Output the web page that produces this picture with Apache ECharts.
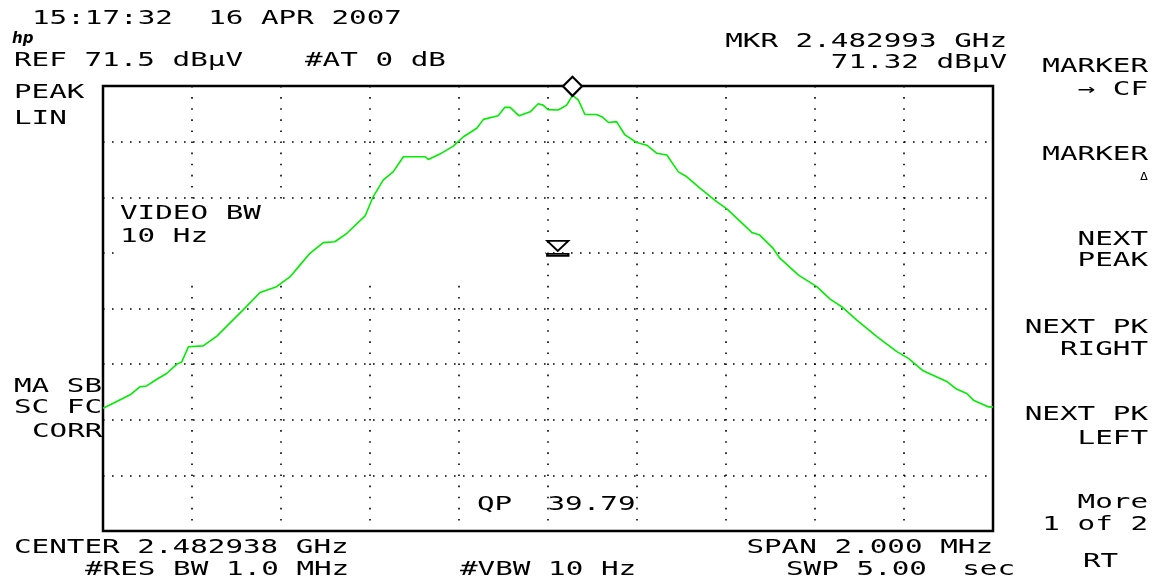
<!DOCTYPE html>
<html>
<head>
<meta charset="utf-8">
<script src="https://cdn.jsdelivr.net/npm/echarts@6/dist/echarts.min.js"></script>
<style>
html,body{margin:0;padding:0;background:#fff;}
#chart{width:1159px;height:585px;}
</style>
</head>
<body>
<div id="chart"></div>
<script>
// ---- data (frequency offset from center in kHz, linear level in % of REF 71.5 dBuV) ----
var freqKHz = [-1000,-977,-939,-917,-902,-879,-857,-834,-823,-808,-775,-744,-715,-685,-647,-610,-580,-557,-535,-505,-479,-452,-411,-393,-370,-348,-325,-276,-269,-243,-213,-190,-160,-145,-112,-97,-85,-65,-40,-22,-11,0,23,42,55,68,83,109,121,136,154,173,199,222,244,267,293,312,342,379,402,424,458,476,506,521,563,604,634,660,694,739,784,810,843,896,918,941,956,989,1000];
var levelPct = [27.6,28.7,30.6,32.4,32.6,34.1,35.4,37.5,38.0,41.4,41.6,43.8,46.7,49.7,53.6,54.9,57.1,59.8,62.4,64.8,65.0,66.9,70.8,75.1,78.9,80.7,84.1,84.1,83.5,84.7,86.5,88.6,90.5,92.5,93.3,95.2,95.2,93.3,94.2,96.0,95.7,94.7,94.6,95.7,97.9,96.9,93.6,93.6,93.1,91.8,92.0,89.0,87.3,86.7,84.9,84.5,80.7,79.6,77.0,74.0,72.4,70.3,67.1,66.5,63.5,61.3,57.5,54.9,52.1,50.4,47.4,43.7,40.3,38.8,36.0,33.6,31.9,30.9,29.4,27.9,27.9];
var markerPeak = [55, 97.9];        // MKR 2.482993 GHz, 71.32 dBuV
var displayLine = [22, 63.5];       // display line symbol
var xRange = [-1000, 1000];
var xStep = 200;
var yRange = [0, 100];
var yStep = 12.5;

// ---- annotation texts ----
var headerTexts = ["15:17:32  16 APR 2007", "REF 71.5 dBµV", "#AT 0 dB", "MKR 2.482993 GHz", "71.32 dBµV"];
var leftTexts = ["PEAK", "LIN", "VIDEO BW", "10 Hz", "MA SB", "SC FC", "CORR"];
var footerTexts = ["CENTER 2.482938 GHz", "SPAN 2.000 MHz", "#RES BW 1.0 MHz", "#VBW 10 Hz", "SWP 5.00  sec", "QP  39.79"];
var menuTexts = ["MARKER", "→ CF", "MARKER", "NEXT", "PEAK", "NEXT PK", "RIGHT", "NEXT PK", "LEFT", "More", "1 of 2", "RT"];

var FONT = '19px "DejaVu Sans Mono"';
var SX = 1.54;
function T(s, x, y, align, font, sx) {
  return {
    type: 'text', x: x, y: y, scaleX: sx || SX, z: 10,
    style: {
      text: s, font: font || FONT, fill: '#000',
      textAlign: align || 'left', textVerticalAlign: 'middle',
      align: align || 'left', verticalAlign: 'middle'
    }
  };
}

var data = freqKHz.map(function (f, i) { return [f, levelPct[i]]; });

var chart = echarts.init(document.getElementById('chart'));
chart.setOption({
  backgroundColor: '#fff',
  animation: false,
  grid: {
    left: 103, top: 86, width: 890, height: 445,
    show: true, borderColor: '#000', borderWidth: 2.5, backgroundColor: 'transparent'
  },
  xAxis: {
    type: 'value', min: xRange[0], max: xRange[1], interval: xStep,
    axisLine: {show: false}, axisTick: {show: false}, axisLabel: {show: false},
    splitLine: {show: true, lineStyle: {color: '#000', width: 1.6, type: [1.6, 9.5]}}
  },
  yAxis: {
    type: 'value', min: yRange[0], max: yRange[1], interval: yStep,
    axisLine: {show: false}, axisTick: {show: false}, axisLabel: {show: false},
    splitLine: {show: true, lineStyle: {color: '#000', width: 1.6, type: [1.6, 7.4]}}
  },
  series: [{
    type: 'line', data: data, z: 3,
    symbol: 'none', smooth: false,
    lineStyle: {color: '#00ee00', width: 1.6},
    markPoint: {
      silent: true,
      label: {show: false},
      data: [
        {coord: markerPeak, symbol: 'diamond', symbolSize: [19, 19], symbolOffset: [0, -9],
         itemStyle: {color: '#fff', borderColor: '#000', borderWidth: 2.2}},
        {coord: displayLine,
         symbol: 'path://M0,0 L22,0 L11,10 Z M0,13 L22,13 L22,15 L0,15 Z',
         symbolSize: [21, 15], symbolKeepAspect: false,
         itemStyle: {color: '#fff', borderColor: '#000', borderWidth: 2}}
      ]
    }
  }],
  graphic: [
    // region of the screen cleared by the annotation block
    {type: 'rect', z: 1, shape: {x: 115, y: 201, width: 430, height: 82}, style: {fill: '#fff'}},
    // hp logo
    {type: 'text', x: 12, y: 39, z: 10,
     style: {text: 'hp', font: 'italic bold 15px "DejaVu Sans"', fill: '#000', textAlign: 'left', textVerticalAlign: 'middle', align: 'left', verticalAlign: 'middle'}},
    T(headerTexts[0], 32, 19),
    T(headerTexts[1], 14, 61.5),
    T(headerTexts[2], 305, 61.5),
    T(headerTexts[3], 1007, 42, 'right'),
    T(headerTexts[4], 1007, 63, 'right'),
    T(leftTexts[0], 14, 93),
    T(leftTexts[1], 14, 119),
    T(leftTexts[2], 120, 214),
    T(leftTexts[3], 120, 237),
    T(leftTexts[4], 14, 387.5),
    T(leftTexts[5], 14, 408),
    T(leftTexts[6], 32, 432),
    T(footerTexts[0], 14, 548.5),
    T(footerTexts[1], 993, 548.5, 'right'),
    T(footerTexts[2], 85, 570.5),
    T(footerTexts[3], 460, 570.5),
    T(footerTexts[4], 786, 570.5),
    T(footerTexts[5], 477, 505.5),
    T(menuTexts[0], 1148, 67.5, 'right'),
    T(menuTexts[1], 1148, 90, 'right'),
    T(menuTexts[2], 1148, 155.5, 'right'),
    T('Δ', 1148, 177, 'right', '11px "DejaVu Sans Mono"', 1.2),
    T(menuTexts[3], 1148, 240, 'right'),
    T(menuTexts[4], 1148, 261.5, 'right'),
    T(menuTexts[5], 1148, 328.5, 'right'),
    T(menuTexts[6], 1148, 350.5, 'right'),
    T(menuTexts[7], 1148, 415.5, 'right'),
    T(menuTexts[8], 1148, 439, 'right'),
    T(menuTexts[9], 1148, 503.5, 'right'),
    T(menuTexts[10], 1148, 525.5, 'right'),
    T(menuTexts[11], 1083, 562.5)
  ]
});
</script>
</body>
</html>
